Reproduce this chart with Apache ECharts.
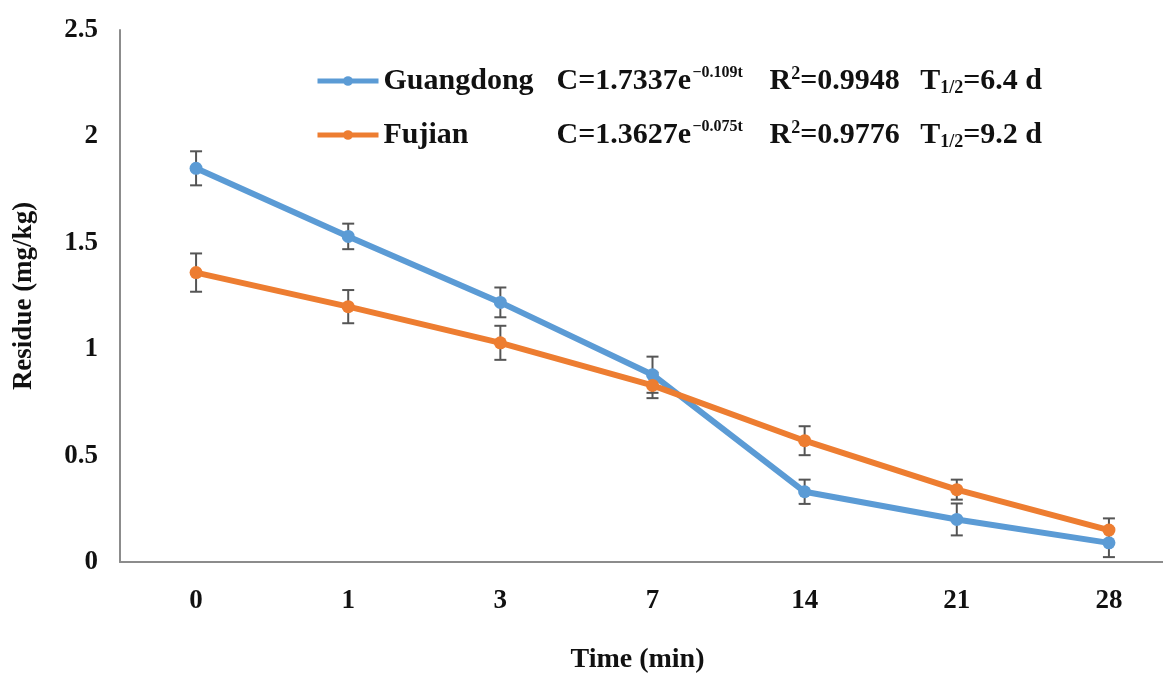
<!DOCTYPE html>
<html>
<head>
<meta charset="utf-8">
<script src="https://cdn.jsdelivr.net/npm/echarts@6/dist/echarts.min.js"></script>
<style>
html,body{margin:0;padding:0;background:#fff;overflow:hidden;width:1163px;height:679px}
#wrap{position:relative;width:1163px;height:679px;overflow:hidden}
#c{position:absolute;left:0;top:0;width:1185px;height:679px}
</style>
</head>
<body>
<div id="wrap"><div id="c"></div></div>
<script>
const categories = ['0', '1', '3', '7', '14', '21', '28'];
const yTicks = [0, 0.5, 1, 1.5, 2, 2.5];
const guangdong = [1.85, 1.53, 1.22, 0.88, 0.33, 0.20, 0.09];
const guangdongErr = [0.08, 0.06, 0.07, 0.085, 0.057, 0.075, 0.067];
const fujian = [1.36, 1.20, 1.03, 0.83, 0.57, 0.34, 0.15];
const fujianErr = [0.09, 0.078, 0.08, 0.06, 0.068, 0.047, 0.055];
const seriesNames = ['Guangdong', 'Fujian'];
const fitEq = ['1.7337', '1.3627'];
const fitK = ['−0.109t', '−0.075t'];
const fitR2 = ['0.9948', '0.9776'];
const halfLife = ['6.4 d', '9.2 d'];

const FONT = 'Liberation Serif';
const BLUE = '#5B9BD5', ORANGE = '#ED7D31', ERR = '#555555';

function errData(vals, errs) {
  return vals.map((v, i) => [i, v - errs[i], v + errs[i]]);
}
function errSeries(vals, errs) {
  return {
    type: 'custom',
    z: 1,
    silent: true,
    data: errData(vals, errs),
    renderItem: function (params, api) {
      const lo = api.coord([api.value(0), api.value(1)]);
      const hi = api.coord([api.value(0), api.value(2)]);
      const hw = 6;
      const st = { stroke: ERR, lineWidth: 2 };
      return {
        type: 'group',
        children: [
          { type: 'line', shape: { x1: lo[0], y1: lo[1], x2: hi[0], y2: hi[1] }, style: st },
          { type: 'line', shape: { x1: lo[0] - hw, y1: lo[1], x2: lo[0] + hw, y2: lo[1] }, style: st },
          { type: 'line', shape: { x1: hi[0] - hw, y1: hi[1], x2: hi[0] + hw, y2: hi[1] }, style: st }
        ]
      };
    }
  };
}

const base = { fontFamily: FONT, fontWeight: 'bold', color: '#111', lineHeight: 32 };
const chart = echarts.init(document.getElementById('c'));
chart.setOption({
  animation: false,
  backgroundColor: '#fff',
  grid: { left: 120, top: 30, bottom: 114, right: 0 },
  legend: {
    left: 310, top: 60,
    orient: 'vertical',
    itemGap: 22,
    itemWidth: 61, itemHeight: 12,
    lineStyle: { width: 5 },
    data: seriesNames,
    textStyle: {
      fontFamily: FONT, fontWeight: 'bold', fontSize: 30, color: '#111',
      rich: {
        n: Object.assign({}, base, { fontSize: 30, width: 173 }),
        c: Object.assign({}, base, { fontSize: 30, width: 136 }),
        s: Object.assign({}, base, { fontSize: 16, width: 77, verticalAlign: 'top', padding: [0, 0, 14, 0] }),
        r: Object.assign({}, base, { fontSize: 30 }),
        r2: Object.assign({}, base, { fontSize: 18, verticalAlign: 'top', padding: [0, 0, 12, 0] }),
        rv: Object.assign({}, base, { fontSize: 30, width: 120 }),
        t: Object.assign({}, base, { fontSize: 30 }),
        tb: Object.assign({}, base, { fontSize: 18, verticalAlign: 'bottom', padding: [10, 0, 0, 0] }),
        tv: Object.assign({}, base, { fontSize: 30 })
      }
    },
    formatter: function (name) {
      const i = seriesNames.indexOf(name);
      return '{n|' + name + '}{c|C=' + fitEq[i] + 'e}{s|' + fitK[i] + '}{r|R}{r2|2}{rv|=' + fitR2[i] + '}{t|T}{tb|1/2}{tv|=' + halfLife[i] + '}';
    }
  },
  xAxis: {
    type: 'category',
    data: categories,
    boundaryGap: true,
    axisLine: { show: true, lineStyle: { color: '#8c8c8c', width: 2 } },
    axisTick: { show: false },
    axisLabel: { fontFamily: FONT, fontWeight: 'bold', fontSize: 27, color: '#111', margin: 26 },
    name: 'Time (min)',
    nameLocation: 'middle',
    nameGap: 84,
    nameTextStyle: { fontFamily: FONT, fontWeight: 'bold', fontSize: 28, color: '#111', padding: [0, 30, 0, 0] }
  },
  yAxis: {
    type: 'value',
    min: yTicks[0], max: yTicks[yTicks.length - 1], interval: 0.5,
    axisLine: { show: true, lineStyle: { color: '#8c8c8c', width: 2 } },
    axisTick: { show: false },
    splitLine: { show: false },
    axisLabel: { fontFamily: FONT, fontWeight: 'bold', fontSize: 27, color: '#111', margin: 22 },
    name: 'Residue (mg/kg)',
    nameLocation: 'middle',
    nameGap: 82,
    nameTextStyle: { fontFamily: FONT, fontWeight: 'bold', fontSize: 27, color: '#111' }
  },
  series: [
    errSeries(guangdong, guangdongErr),
    errSeries(fujian, fujianErr),
    {
      name: seriesNames[0], type: 'line', data: guangdong, z: 2,
      symbol: 'circle', symbolSize: 13,
      lineStyle: { color: BLUE, width: 6 },
      itemStyle: { color: BLUE }
    },
    {
      name: seriesNames[1], type: 'line', data: fujian, z: 3,
      symbol: 'circle', symbolSize: 13,
      lineStyle: { color: ORANGE, width: 6 },
      itemStyle: { color: ORANGE }
    }
  ]
});
</script>
</body>
</html>
